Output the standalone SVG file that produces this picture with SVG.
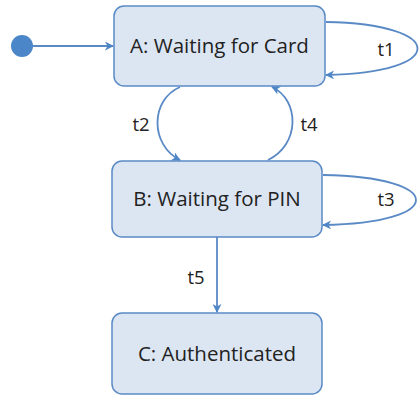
<svg xmlns="http://www.w3.org/2000/svg" width="419" height="396" viewBox="0 0 419 396">
<defs>
<marker id="arr" viewBox="0 0 10 10" refX="9" refY="5" markerWidth="9" markerHeight="9" markerUnits="userSpaceOnUse" orient="auto">
<path d="M0,0 L10,5 L0,10 L3,5 Z" fill="#4f86c6"/>
</marker>
<style>
.box{fill:#dce6f2;stroke:#5a8ac6;stroke-width:1.5}
.lbl{font-family:"Open Sans","Noto Sans",sans-serif;font-size:20.5px;fill:#222;text-anchor:middle}
.tl{font-family:"Open Sans","Noto Sans",sans-serif;font-size:18.5px;fill:#222;text-anchor:middle}
.c{fill:none;stroke:#5a8ac6;stroke-width:1.8;marker-end:url(#arr)}
</style>
</defs>
<g id="start"><circle cx="22" cy="46" r="11" fill="#4a86c8"/></g>
<g id="A"><rect class="box" x="114" y="6" width="211" height="80" rx="10"/><text class="lbl" x="219.5" y="53">A: Waiting for Card</text></g>
<g id="B"><rect class="box" x="112" y="161" width="210" height="76" rx="10"/><text class="lbl" x="217" y="206">B: Waiting for PIN</text></g>
<g id="C"><rect class="box" x="112" y="313" width="210" height="81" rx="10"/><text class="lbl" x="217" y="361">C: Authenticated</text></g>
<g id="connectors">
<path class="c" d="M33,46 L113,46"/>
<path class="c" d="M326,22 C448,24 448,73 326,75"/>
<path class="c" d="M180,87 C150,100 150,145 180,160"/>
<path class="c" d="M268,160 C300,145 300,100 272,87"/>
<path class="c" d="M323,175 C447,177 447,223 323,225"/>
<path class="c" d="M217,237 L217,312"/>
</g>
<g id="labels">
<text class="tl" x="386" y="56">t1</text>
<text class="tl" x="141" y="131">t2</text>
<text class="tl" x="309" y="131">t4</text>
<text class="tl" x="386" y="206">t3</text>
<text class="tl" x="196" y="284">t5</text>
</g>
</svg>
